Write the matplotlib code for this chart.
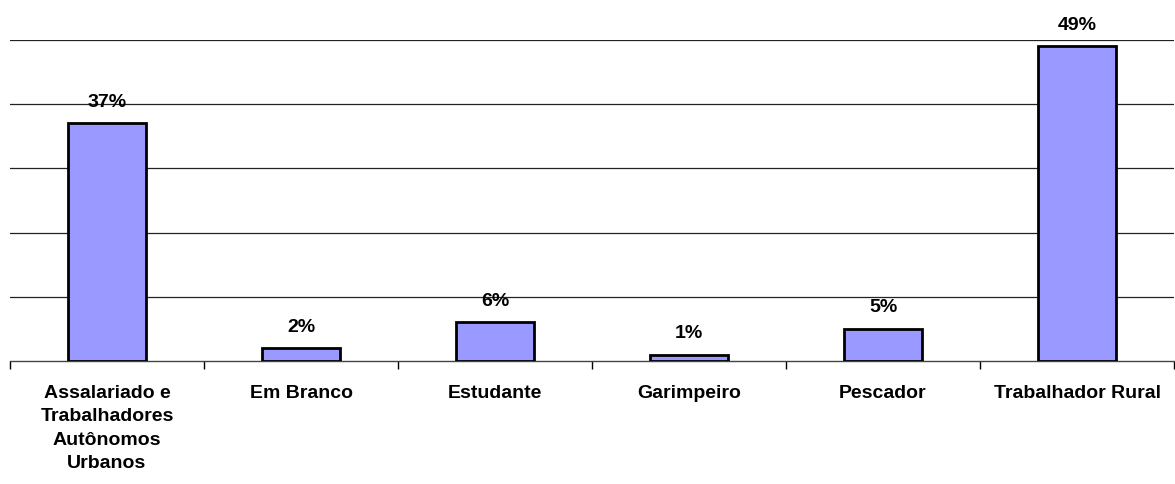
import matplotlib.pyplot as plt
import numpy as np

# ── Dados ─────────────────────────────────────────────────────────────────────
categorias = ['Assalariado e\nTrabalhadores\nAutônomos\nUrbanos', 'Em Branco',
              'Estudante', 'Garimpeiro', 'Pescador', 'Trabalhador Rural']
valores = [37, 2, 6, 1, 5, 49]
grade = [10, 20, 30, 40, 50]

plt.rcParams['font.family'] = ['Liberation Sans', 'DejaVu Sans']

fig = plt.figure(figsize=(11.75, 4.84), dpi=100)
ax = fig.add_axes([10 / 1175, 1 - 361 / 484, 1164 / 1175, 321 / 484])

x = np.arange(len(categorias))
ax.bar(x, valores, width=0.4, color='#9999FF', edgecolor='black',
       linewidth=2, zorder=3)

for xi, v in zip(x, valores):
    ax.annotate(f'{v}%', (xi, v), xytext=(0, 9), textcoords='offset points',
                ha='center', va='bottom', fontsize=14, fontweight='bold')

for g in grade:
    ax.axhline(g, color='#222222', linewidth=0.9, zorder=1)

ax.set_xlim(-0.5, len(categorias) - 0.5)
ax.set_ylim(0, 50)

ax.set_xticks(x)
ax.set_xticklabels(categorias, fontsize=14, fontweight='bold', linespacing=1.5)
ax.set_xticks(np.arange(len(categorias) + 1) - 0.5, minor=True)
ax.tick_params(axis='x', which='major', length=0, pad=17)
ax.tick_params(axis='x', which='minor', length=6, width=1, color='black')
ax.set_yticks([])

for s in ['left', 'right', 'top']:
    ax.spines[s].set_visible(False)
ax.spines['bottom'].set_color('#444444')
ax.spines['bottom'].set_linewidth(1)

fig.savefig('out.png', dpi=100)
